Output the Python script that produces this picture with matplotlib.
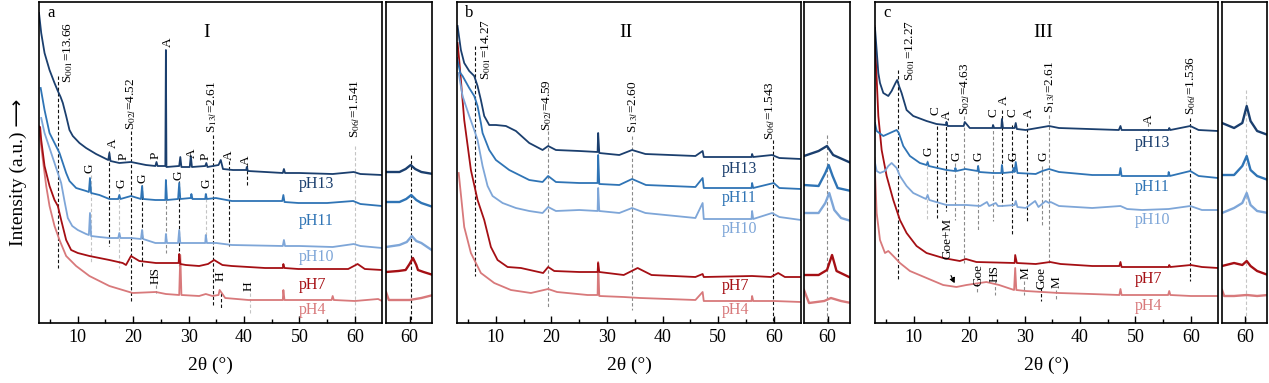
import matplotlib
matplotlib.use('Agg')
import matplotlib.pyplot as plt
from matplotlib.ticker import FixedLocator

plt.rcParams['font.family'] = ['Liberation Serif', 'DejaVu Sans']
plt.rcParams['mathtext.fontset'] = 'stix'

samples = ['pH13', 'pH11', 'pH10', 'pH7', 'pH4']
colors = ['#1b3f6e', '#2f74b5', '#7ea6d8', '#a50f14', '#d8797b']
dash_cols = {'k': '#111111', 'g': '#8a8a8a', 'lg': '#c4c4c4'}

# ---- panel a (I): 2theta (deg), intensity (a.u.) ----
a_ph13 = [(3.0, 310), (3.4, 290), (4.0, 270), (4.9, 253), (5.8, 240), (6.4, 232), (6.9, 226),
          (7.3, 220), (7.9, 207), (8.5, 193), (9.1, 187), (10.3, 180), (11.5, 175), (13.3, 169),
          (15.5, 163), (15.7, 170), (15.9, 162), (17.5, 160), (19.6, 161), (22.3, 158), (24.0, 157),
          (24.2, 161), (24.4, 157), (25.8, 157), (25.9, 273), (26.0, 156), (28.3, 157), (28.5, 166),
          (28.7, 156), (30.2, 156), (30.4, 167), (30.6, 156), (33.0, 157), (33.2, 160), (33.4, 156),
          (35.4, 158), (35.8, 163), (36.2, 154), (38.0, 153), (40.4, 153), (40.5, 156), (40.7, 152),
          (43.9, 151), (47.0, 150), (47.2, 154), (47.4, 150), (50.0, 150), (56.0, 149), (59.8, 151),
          (61.0, 149), (64.9, 148)]
a_ph11 = [(3.3, 235), (4.0, 213), (4.9, 190), (5.8, 180), (6.7, 170), (7.3, 160), (7.9, 150),
          (8.5, 142), (9.7, 135), (11.5, 132), (12.0, 131), (12.2, 145), (12.4, 130), (13.9, 128),
          (15.7, 124), (17.3, 124), (17.5, 128), (17.7, 124), (19.6, 127), (21.4, 124), (21.6, 137),
          (21.8, 124), (24.0, 123), (25.8, 123), (25.9, 143), (26.1, 123), (28.1, 124), (28.3, 140),
          (28.5, 124), (30.4, 125), (30.5, 129), (30.7, 124), (33.0, 124), (33.1, 129), (33.3, 124),
          (34.9, 125), (37.8, 122), (46.9, 122), (47.1, 128), (47.3, 121), (49.8, 120), (55.0, 120),
          (59.7, 122), (61.0, 119), (64.9, 117)]
a_ph10 = [(3.4, 205), (4.0, 190), (4.9, 175), (5.8, 160), (6.4, 150), (7.0, 140), (7.6, 122),
          (8.2, 105), (9.0, 97), (10.0, 93), (11.5, 89), (12.0, 88), (12.2, 110), (12.4, 87),
          (13.9, 86), (15.7, 85), (17.3, 85), (17.5, 90), (17.7, 85), (19.6, 85), (21.4, 84),
          (21.6, 93), (21.8, 84), (24.0, 80), (25.8, 80), (25.9, 89), (26.1, 80), (28.1, 80),
          (28.3, 93), (28.5, 80), (33.0, 80), (33.1, 88), (33.3, 80), (35.0, 80), (37.8, 78),
          (47.0, 77), (47.2, 83), (47.4, 77), (50.0, 77), (56.0, 76), (59.8, 79), (61.0, 77), (64.9, 75)]
a_ph7 = [(2.9, 196), (3.2, 196), (3.4, 183), (4.0, 157), (4.9, 137), (5.8, 123), (6.4, 117),
         (7.0, 103), (7.9, 83), (8.8, 73), (10.0, 70), (12.1, 67), (15.7, 63), (18.1, 60), (18.7, 58),
         (19.6, 67), (21.1, 62), (24.1, 60), (27.7, 60), (28.2, 60), (28.3, 69), (28.5, 59), (29.5, 58),
         (31.9, 57), (33.5, 59), (34.6, 63), (36.1, 58), (37.8, 57), (43.8, 55), (47.0, 55), (47.1, 59),
         (47.3, 55), (49.8, 54), (58.8, 54), (60.5, 59), (61.8, 54), (64.9, 53)]
a_ph4 = [(3.0, 197), (3.1, 190), (3.7, 163), (4.3, 137), (4.9, 117), (5.8, 97), (6.7, 83), (7.9, 67),
         (9.7, 57), (12.1, 47), (15.7, 37), (19.9, 30), (24.1, 31), (25.9, 29), (28.3, 28), (28.5, 68),
         (28.7, 28), (31.9, 27), (33.1, 29), (34.3, 27), (35.4, 28), (35.6, 33), (36.6, 25), (40.8, 23),
         (47.0, 23), (47.1, 33), (47.3, 23), (55.8, 23), (56.0, 27), (56.2, 23), (60.0, 22), (64.2, 24),
         (64.9, 22)]
a_ph13_in = [(55.8, 151), (58.2, 151), (59.3, 154), (60.2, 158), (61.0, 154), (62.1, 151), (64.2, 149)]
a_ph11_in = [(55.8, 121), (58.2, 121), (59.4, 124), (60.3, 128), (61.2, 123), (62.1, 120), (64.2, 116)]
a_ph10_in = [(55.8, 76), (58.2, 78), (59.5, 81), (60.4, 87), (61.2, 82), (62.1, 80), (64.2, 72)]
a_ph7_in = [(55.8, 51), (58.0, 52), (59.3, 53), (60.0, 59), (60.6, 65), (61.2, 58), (61.5, 53),
            (62.5, 51), (64.2, 48)]
a_ph4_in = [(55.8, 31), (56.3, 23), (58.2, 23), (60.0, 23), (62.1, 25), (64.2, 28)]

a_vlines = [(6.47, 247, 55, 'k'), (12.3, 148, 60, 'lg'), (15.7, 172, 77, 'k'), (17.5, 135, 55, 'lg'),
            (19.62, 192, 20, 'k'), (21.6, 138, 55, 'k'), (25.9, 123, 70, 'g'), (28.2, 142, 57, 'k'),
            (33.1, 130, 80, 'lg'), (34.33, 188, 18, 'k'), (37.3, 162, 77, 'k'), (40.5, 158, 138, 'k'),
            (60.0, 177, 8, 'lg'), (24.1, 38, 30, 'g'), (35.8, 30, 15, 'k'), (41.0, 30, 10, 'lg')]
a_inset_vline = (60.2, 168, 0, 'k')
a_letters = [('A', 16.3, 180), ('P', 18.2, 167), ('P', 24.0, 168), ('A', 26.2, 281), ('A', 30.5, 170),
             ('P', 33.1, 167), ('A', 37.3, 168), ('A', 40.4, 163), ('G', 12.2, 155), ('G', 17.8, 140),
             ('G', 21.7, 145), ('G', 28.1, 148), ('G', 33.2, 140), ('HS', 24.1, 47), ('H', 35.7, 47),
             ('H', 40.8, 37)]
a_slabels = [('S$_{001}$=13.66', 8.3, 240), ('S$_{02l}$=4.52', 19.7, 193),
             ('S$_{13l}$=2.61', 34.3, 190), ('S$_{06l}$=1.541', 60.0, 185)]
a_phlabels = [(49.8, 139), (49.8, 102), (49.8, 66), (49.8, 38), (49.8, 13)]

# ---- panel b (II) ----
b_ph13 = [(3.1, 297), (3.7, 273), (4.3, 260), (5.2, 252), (6.1, 247), (6.7, 237), (7.3, 223),
          (7.9, 207), (8.8, 198), (10.0, 198), (11.8, 197), (13.6, 192), (16.0, 180), (18.4, 173),
          (19.4, 177), (20.8, 173), (25.0, 172), (28.3, 171), (28.4, 190), (28.6, 170), (32.2, 168),
          (34.5, 173), (36.9, 169), (45.9, 167), (47.2, 172), (47.4, 166), (56.0, 166), (56.1, 169),
          (56.3, 166), (59.7, 168), (61.0, 165), (64.9, 164)]
b_ph11 = [(3.0, 265), (3.6, 250), (4.0, 247), (5.2, 235), (6.1, 227), (6.7, 217), (7.3, 200),
          (7.6, 190), (8.8, 173), (10.0, 163), (12.4, 153), (16.0, 143), (18.4, 141), (19.4, 147),
          (20.8, 141), (25.0, 140), (28.3, 140), (28.4, 168), (28.6, 139), (32.2, 138), (34.5, 144),
          (37.0, 138), (45.9, 136), (47.2, 145), (47.4, 135), (56.0, 135), (56.1, 140), (56.3, 135),
          (60.0, 140), (61.0, 135), (64.9, 134)]
b_ph10 = [(3.3, 250), (4.0, 227), (5.2, 207), (6.1, 193), (6.7, 183), (7.6, 157), (8.5, 137),
          (9.4, 127), (11.2, 120), (13.6, 115), (16.0, 112), (18.4, 110), (19.4, 116), (20.8, 112),
          (25.0, 113), (28.3, 112), (28.4, 135), (28.6, 112), (32.2, 110), (34.5, 115), (36.9, 110),
          (45.9, 105), (47.2, 120), (47.4, 104), (56.0, 104), (56.1, 112), (56.3, 104), (59.7, 110),
          (61.0, 106), (64.9, 103)]
b_ph7 = [(3.1, 280), (3.4, 263), (4.3, 203), (5.5, 153), (6.7, 123), (7.9, 103), (9.1, 76),
         (10.3, 63), (12.1, 56), (14.5, 55), (18.5, 50), (19.4, 56), (20.5, 52), (25.0, 51), (28.3, 51),
         (28.4, 60), (28.6, 51), (33.0, 48), (35.5, 55), (38.0, 48), (45.9, 46), (47.2, 49), (47.4, 46),
         (56.1, 47), (59.5, 46), (60.8, 50), (62.0, 46), (64.9, 46)]
b_ph4 = [(3.3, 150), (3.4, 145), (4.3, 96), (5.5, 70), (7.3, 50), (9.7, 40), (12.7, 33), (16.3, 30),
         (19.4, 34), (21.0, 31), (26.5, 28), (28.3, 28), (28.4, 61), (28.6, 27), (33.0, 26), (36.0, 25),
         (45.9, 23), (47.2, 31), (47.4, 22), (56.0, 22), (56.1, 27), (56.3, 22), (60.0, 22), (64.9, 21)]
b_ph13_in = [(55.8, 167), (58.4, 172), (59.9, 177), (61.0, 168), (64.2, 160)]
b_ph11_in = [(55.8, 138), (58.4, 137), (59.6, 150), (60.2, 158), (60.9, 147), (61.8, 135), (64.2, 132)]
b_ph10_in = [(55.8, 110), (58.4, 110), (59.6, 120), (60.3, 130), (61.2, 113), (62.4, 105), (64.2, 102)]
b_ph7_in = [(55.8, 48), (58.4, 48), (59.9, 53), (60.8, 68), (61.6, 52), (64.2, 45)]
b_ph4_in = [(55.8, 33), (56.7, 20), (59.4, 22), (60.6, 25), (62.4, 22), (64.2, 20)]

b_vlines = [(6.19, 277, 47, 'k'), (19.32, 192, 15, 'g'), (34.47, 187, 13, 'g'), (59.9, 183, 2, 'k')]
b_inset_vline = (59.9, 188, 0, 'g')
b_letters = []
b_slabels = [('S$_{001}$=14.27', 8.3, 243), ('S$_{02l}$=4.59', 19.3, 192),
             ('S$_{13l}$=2.60', 34.6, 190), ('S$_{06l}$=1.543', 59.4, 183)]
b_phlabels = [(50.6, 154), (50.6, 125), (50.6, 94), (50.6, 37), (50.6, 13)]

# ---- panel c (III) ----
c_ph13 = [(3.0, 295), (3.2, 280), (3.6, 250), (3.9, 240), (4.5, 230), (5.4, 227), (6.0, 232),
          (6.7, 240), (7.0, 243), (7.4, 236), (7.8, 230), (8.7, 213), (9.9, 207), (12.3, 202),
          (14.1, 199), (15.8, 198), (15.9, 201), (16.1, 197), (19.0, 197), (19.2, 201), (20.1, 195),
          (24.2, 195), (24.3, 198), (24.5, 195), (25.8, 195), (25.9, 204), (26.1, 195), (28.2, 195),
          (28.4, 200), (28.6, 194), (30.2, 193), (34.4, 197), (36.2, 195), (47.0, 193), (47.3, 197),
          (47.5, 193), (52.4, 193), (56.0, 193), (56.1, 195), (56.3, 193), (59.9, 197), (61.4, 193),
          (64.9, 192)]
c_ph11 = [(3.0, 200), (3.3, 192), (4.5, 187), (5.7, 190), (6.9, 193), (7.3, 190), (8.1, 177),
          (9.3, 167), (11.1, 160), (12.3, 158), (12.5, 161), (12.7, 157), (15.9, 153), (17.4, 152),
          (17.5, 155), (17.7, 152), (19.3, 154), (21.5, 152), (21.6, 157), (21.8, 151), (24.3, 150),
          (25.8, 150), (25.9, 158), (26.1, 150), (27.9, 151), (28.0, 155), (28.2, 151), (28.4, 161),
          (28.7, 150), (32.0, 149), (33.2, 152), (34.4, 154), (36.2, 151), (42.2, 148), (47.1, 148),
          (47.3, 155), (47.5, 147), (55.9, 147), (56.0, 151), (56.2, 147), (59.9, 152), (61.4, 147),
          (64.9, 145)]
c_ph10 = [(2.9, 163), (3.3, 152), (3.9, 150), (4.8, 152), (5.4, 157), (6.0, 160), (6.9, 155),
          (7.5, 147), (8.7, 137), (9.9, 130), (12.2, 124), (12.5, 128), (12.8, 123), (15.9, 118),
          (19.5, 118), (22.0, 117), (23.2, 121), (23.6, 117), (24.8, 120), (25.2, 117), (25.9, 117),
          (28.2, 118), (28.4, 122), (28.7, 116), (30.2, 115), (31.9, 122), (32.5, 116), (33.8, 122),
          (34.4, 120), (34.7, 121), (36.2, 117), (42.2, 115), (47.3, 117), (48.5, 114), (51.2, 113),
          (56.0, 114), (59.9, 117), (62.0, 113), (64.9, 113)]
c_ph7 = [(2.9, 297), (3.2, 257), (3.6, 207), (4.2, 173), (5.1, 147), (6.3, 123), (7.5, 103),
         (8.7, 90), (10.5, 77), (12.3, 70), (15.3, 65), (18.3, 62), (19.4, 64), (21.3, 61), (28.2, 60),
         (28.3, 68), (28.6, 60), (32.0, 59), (34.6, 61), (36.5, 59), (42.2, 57), (47.1, 57), (47.3, 61),
         (47.5, 56), (56.0, 56), (56.1, 58), (56.3, 56), (60.0, 58), (62.0, 56), (64.9, 55)]
c_ph4 = [(2.9, 165), (3.3, 110), (3.9, 83), (4.8, 70), (5.4, 72), (6.3, 67), (7.5, 60), (9.3, 52),
         (12.3, 45), (15.3, 38), (17.7, 36), (19.5, 38), (23.1, 41), (25.4, 38), (28.1, 33), (28.3, 55),
         (28.5, 33), (30.2, 32), (36.2, 30), (42.0, 29), (47.1, 28), (47.3, 34), (47.5, 28), (55.9, 28),
         (56.1, 32), (56.3, 28), (60.0, 27), (64.9, 27)]
c_ph13_in = [(55.8, 200), (58.0, 195), (59.5, 200), (60.3, 217), (61.0, 202), (62.2, 192), (64.2, 188)]
c_ph11_in = [(55.8, 148), (58.0, 148), (59.5, 157), (60.3, 167), (61.0, 153), (62.2, 147), (64.2, 143)]
c_ph10_in = [(55.8, 110), (58.0, 115), (59.5, 120), (60.3, 130), (61.0, 118), (62.2, 112), (64.2, 110)]
c_ph7_in = [(55.8, 57), (58.0, 60), (59.5, 58), (60.3, 62), (61.0, 57), (62.2, 52), (64.2, 48)]
c_ph4_in = [(55.8, 33), (56.2, 27), (58.0, 27), (60.3, 28), (62.2, 27), (64.2, 28)]

c_vlines = [(7.2, 253, 42, 'k'), (14.2, 197, 105, 'k'), (15.8, 202, 112, 'k'), (19.0, 207, 60, 'g'),
            (12.3, 163, 102, 'lg'), (17.5, 160, 103, 'g'), (21.6, 158, 93, 'g'), (24.3, 198, 102, 'g'),
            (25.9, 213, 117, 'k'), (27.8, 198, 88, 'k'), (30.4, 200, 102, 'k'), (33.2, 157, 98, 'g'),
            (34.4, 208, 60, 'g'), (52.3, 200, 192, 'g'), (59.9, 205, 42, 'k'), (21.4, 40, 30, 'g'),
            (24.6, 42, 28, 'g'), (29.8, 42, 28, 'g'), (33.0, 35, 22, 'k'), (35.6, 33, 22, 'g')]
c_inset_vline = (60.2, 233, 0, 'lg')
c_letters = [('C', 14.0, 212), ('A', 16.0, 208), ('C', 24.3, 210), ('A', 26.2, 223), ('C', 27.8, 210),
             ('A', 30.7, 210), ('A', 52.5, 204), ('G', 12.6, 172), ('G', 17.7, 167), ('G', 21.7, 167),
             ('G', 28.0, 167), ('G', 33.4, 167), ('Goe+M', 16.0, 85), ('Goe', 21.6, 48), ('HS', 24.6, 50),
             ('M', 30.1, 50), ('Goe', 33.1, 45), ('M', 35.7, 41)]
c_slabels = [('S$_{001}$=12.27', 9.4, 242), ('S$_{02l}$=4.63', 19.2, 208),
             ('S$_{13l}$=2.61', 34.6, 210), ('S$_{06l}$=1.536', 60.1, 208)]
c_phlabels = [(49.9, 180), (49.9, 136), (49.9, 103), (49.9, 44), (49.9, 17)]
c_arrow = ((16.5, 50), (17.6, 37))

W, H = 1269, 383
fig = plt.figure(figsize=(W / 100, H / 100), dpi=100)
bottom, height = 60 / H, 321 / H
main_px = [(39, 343), (457, 344), (875, 343)]
inset_px = [(386, 46), (804, 46), (1222, 45)]


def style_axis(ax, ticks, minor):
    ax.set_ylim(0, 321)
    ax.set_yticks([])
    ax.xaxis.set_major_locator(FixedLocator(ticks))
    if minor:
        ax.xaxis.set_minor_locator(FixedLocator(minor))
    ax.tick_params(axis='x', which='major', direction='in', length=5, width=1, labelsize=13, pad=4)
    ax.tick_params(axis='x', which='minor', direction='in', length=3, width=1)
    for s in ax.spines.values():
        s.set_linewidth(1.2)


def draw_panel(k, curves, insets, vlines, invline, letters, slabels, phlabels, tag, title, arrow=None):
    l, w = main_px[k]
    ax = fig.add_axes([l / W, bottom, w / W, height])
    li, wi = inset_px[k]
    axi = fig.add_axes([li / W, bottom, wi / W, height])

    for x, y0, y1, c in vlines:
        ax.plot([x, x], [y0, y1], color=dash_cols[c], lw=0.8, ls=(0, (3, 2)), zorder=1)
    x, y0, y1, c = invline
    axi.plot([x, x], [y0, y1], color=dash_cols[c], lw=0.8, ls=(0, (3, 2)), zorder=1)

    for data, ind, col in list(zip(curves, insets, colors))[::-1]:
        ax.plot([p[0] for p in data], [p[1] for p in data], color=col, lw=1.3, zorder=2)
        axi.plot([p[0] for p in ind], [p[1] for p in ind], color=col, lw=1.7, zorder=2)

    for name, (px, py), col in zip(samples, phlabels, colors):
        ax.text(px, py, name, color=col, fontsize=11.5, ha='left', va='center')
    for txt, px, py in letters:
        ax.text(px, py, txt, rotation=90, fontsize=9.5, ha='center', va='center', zorder=3)
    for txt, px, py in slabels:
        ax.text(px, py, txt, rotation=90, fontsize=9.5, ha='center', va='bottom', zorder=3)
    if arrow:
        ax.annotate('', xy=arrow[1], xytext=arrow[0],
                    arrowprops=dict(arrowstyle='-|>', color='black', lw=0.8, ls='--',
                                    mutation_scale=8))

    ax.text(0.035, 0.965, tag, transform=ax.transAxes, fontsize=12, ha='center', va='center')
    ax.text(0.49, 0.905, title, transform=ax.transAxes, fontsize=14, ha='center', va='center')

    ax.set_xlim(3, 64.9)
    style_axis(ax, [10, 20, 30, 40, 50, 60], [5, 15, 25, 35, 45, 55])
    ax.set_xlabel('2θ (°)', fontsize=14, labelpad=8)
    axi.set_xlim(55.8, 64.0)
    style_axis(axi, [60], None)
    return ax


draw_panel(0, [a_ph13, a_ph11, a_ph10, a_ph7, a_ph4],
           [a_ph13_in, a_ph11_in, a_ph10_in, a_ph7_in, a_ph4_in],
           a_vlines, a_inset_vline, a_letters, a_slabels, a_phlabels, 'a', 'I')
draw_panel(1, [b_ph13, b_ph11, b_ph10, b_ph7, b_ph4],
           [b_ph13_in, b_ph11_in, b_ph10_in, b_ph7_in, b_ph4_in],
           b_vlines, b_inset_vline, b_letters, b_slabels, b_phlabels, 'b', 'II')
draw_panel(2, [c_ph13, c_ph11, c_ph10, c_ph7, c_ph4],
           [c_ph13_in, c_ph11_in, c_ph10_in, c_ph7_in, c_ph4_in],
           c_vlines, c_inset_vline, c_letters, c_slabels, c_phlabels, 'c', 'III', arrow=c_arrow)

fig.text(18 / W, 1 - 172 / H, 'Intensity (a.u.) ⟶', rotation=90, fontsize=14,
         ha='center', va='center')

fig.savefig('out.png', dpi=100)
